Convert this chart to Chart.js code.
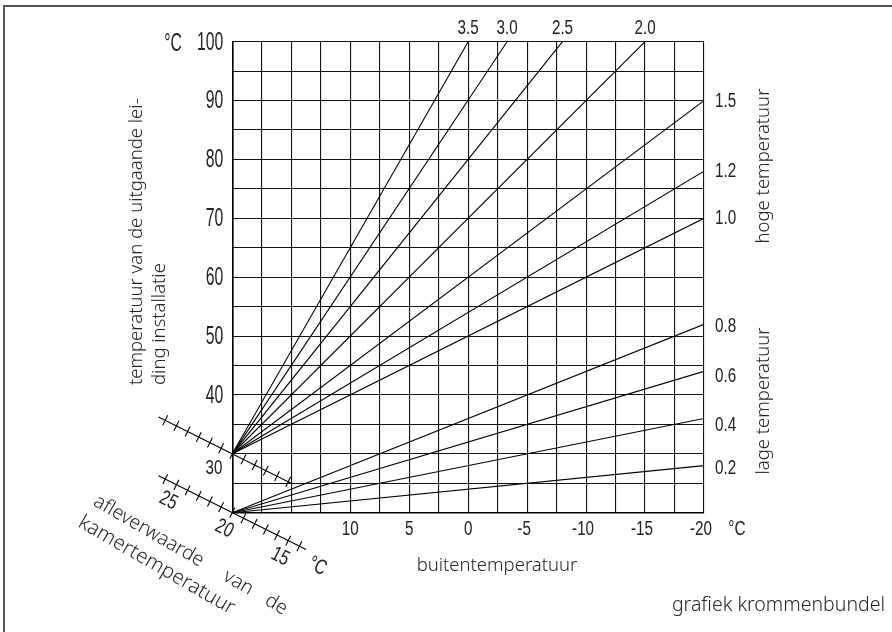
<!DOCTYPE html>
<html>
<head>
<meta charset="utf-8">
<script src="https://cdn.jsdelivr.net/npm/chart.js@4.4.1/dist/chart.umd.min.js"></script>
<style>
  html, body { margin: 0; padding: 0; background: #fff; }
  #wrap { width: 892px; height: 632px; position: relative; }
</style>
</head>
<body>
<div id="wrap"><canvas id="chart"></canvas></div>
<script>
// stooklijnen (heating curves): flow temperature against outdoor temperature
const curveLabels = ['3.5', '3.0', '2.5', '2.0', '1.5', '1.2', '1.0', '0.8', '0.6', '0.4', '0.2'];
const curveStartX = [20, 20, 20, 20, 20, 20, 20, 20, 20, 20, 20];
const curveStartY = [30, 30, 30, 30, 30, 30, 30, 20, 20, 20, 20];
const curveEndX = [0, -3.3, -8, -15, -20, -20, -20, -20, -20, -20, -20];
const curveEndY = [100, 100, 100, 100, 90, 78, 70, 52, 44, 36, 28];

const xTickLabels = [10, 5, 0, -5, -10, -15, -20];
const yTickLabels = [40, 50, 60, 70, 80, 90, 100];

// room temperature (oblique scales)
const roomTicksLow = [26, 25, 24, 23, 22, 21, 20, 19, 18, 17, 16, 15, 14];
const roomTicksHigh = [26, 25, 24, 23, 22, 21, 20, 19, 18, 17, 16, 15];
const roomTickLabels = [25, 20, 15];

const NUM_FAMILY = '"Liberation Sans", Arial, sans-serif';
const TXT_FAMILY = '"Noto Sans", "Open Sans", sans-serif';
const INK = '#222';

const datasets = curveLabels.map((lbl, i) => ({
  label: lbl,
  data: [{ x: curveStartX[i], y: curveStartY[i] }, { x: curveEndX[i], y: curveEndY[i] }],
  showLine: true,
  borderColor: '#000',
  borderWidth: 1.1,
  pointRadius: 0,
  fill: false
}));

// the numbers in the original use a condensed face: squeeze Liberation Sans
function narrow(ctx, txt, x, y, align, angle, size, sx) {
  ctx.save();
  ctx.translate(x, y);
  if (angle) ctx.rotate(angle);
  ctx.scale(sx || 0.78, 1);
  ctx.font = (size || 19.5) + 'px ' + NUM_FAMILY;
  ctx.textAlign = align || 'center';
  ctx.textBaseline = 'middle';
  ctx.fillText(txt, 0, 0);
  ctx.restore();
}

function roomScale(ctx, x0, y0, ticks, lineFrom, lineTo, withLabels) {
  const ang = Math.atan(0.5);
  const step = 12.5;
  const ux = Math.cos(ang), uy = Math.sin(ang);
  const nx = -uy, ny = ux;
  ctx.save();
  ctx.strokeStyle = '#000';
  ctx.lineWidth = 1.1;
  ctx.beginPath();
  ctx.moveTo(x0 + ux * lineFrom * step, y0 + uy * lineFrom * step);
  ctx.lineTo(x0 + ux * lineTo * step, y0 + uy * lineTo * step);
  ticks.forEach(t => {
    const d = (20 - t) * step;
    const px = x0 + ux * d, py = y0 + uy * d;
    ctx.moveTo(px - nx * 5.5, py - ny * 5.5);
    ctx.lineTo(px + nx * 5.5, py + ny * 5.5);
  });
  ctx.stroke();
  if (withLabels) {
    ctx.fillStyle = INK;
    roomTickLabels.forEach(t => {
      const d = (20 - t) * step;
      narrow(ctx, String(t), x0 + ux * d + nx * 18, y0 + uy * d + ny * 18, 'center', ang, 21, 0.75);
    });
    narrow(ctx, '°C', x0 + ux * 100 + nx * 10, y0 + uy * 100 + ny * 10, 'center', ang, 21, 0.75);
  }
  ctx.restore();
}

const extras = {
  id: 'extras',
  afterDraw(chart) {
    const ctx = chart.ctx;
    const xs = chart.scales.x, ys = chart.scales.y;
    const area = chart.chartArea;

    ctx.save();
    // frame
    ctx.strokeStyle = '#555';
    ctx.lineWidth = 2;
    ctx.strokeRect(4, 6, 1000, 1000);

    ctx.fillStyle = INK;
    // axis numbers, placed by the scales
    xs.ticks.forEach(t => {
      if (xTickLabels.includes(t.value)) {
        narrow(ctx, String(t.value), xs.getPixelForValue(t.value) - (t.value < 0 ? 3 : 0), area.bottom + 17);
      }
    });
    ys.ticks.forEach(t => {
      if (yTickLabels.includes(t.value)) {
        narrow(ctx, String(t.value), area.left - 9, ys.getPixelForValue(t.value) + 1, 'right', 0, 25, 0.63);
      }
    });

    // curve labels
    const nudge = { '1.5': 1, '0.8': 2, '0.6': 5, '0.4': 7, '0.2': 3 };
    curveLabels.forEach((lbl, i) => {
      if (curveEndY[i] >= 100) {
        narrow(ctx, lbl, xs.getPixelForValue(curveEndX[i]), area.top - 13);
      } else {
        narrow(ctx, lbl, area.right + 11, ys.getPixelForValue(curveEndY[i]) + (nudge[lbl] || 0), 'left');
      }
    });

    // units and the displaced 30
    narrow(ctx, '°C', 173, area.top + 2, 'center', 0, 25, 0.63);
    narrow(ctx, '°C', area.right + 33, area.bottom + 17, 'center', 0, 20.5, 0.75);
    narrow(ctx, '30', 214, ys.getPixelForValue(30) + 14, 'center', 0, 21, 0.72);

    // oblique room temperature scales
    const x20 = xs.getPixelForValue(20);
    roomScale(ctx, x20, ys.getPixelForValue(30), roomTicksHigh, -6.6, 5.26, false);
    roomScale(ctx, x20, ys.getPixelForValue(20), roomTicksLow, -6.6, 6.6, true);

    // titles
    ctx.fillStyle = '#262626';
    ctx.font = '300 18.5px ' + TXT_FAMILY;
    ctx.textAlign = 'center';
    ctx.textBaseline = 'middle';
    ctx.fillText('buitentemperatuur', 497, 566);
    ctx.font = '300 19.5px ' + TXT_FAMILY;
    ctx.textAlign = 'right';
    ctx.fillText('grafiek krommenbundel', 885, 605);
    ctx.font = '300 18.5px ' + TXT_FAMILY;

    const vtext = (txt, x, y, align) => {
      ctx.save();
      ctx.translate(x, y);
      ctx.rotate(-Math.PI / 2);
      ctx.textAlign = align;
      ctx.fillText(txt, 0, 0);
      ctx.restore();
    };
    vtext('temperatuur van de uitgaande lei-', 137, 385, 'left');
    vtext('ding installatie', 160, 385, 'left');
    vtext('hoge temperatuur', 764, 166, 'center');
    vtext('lage temperatuur', 764, 401, 'center');

    const otext = (txt, x, y) => {
      ctx.save();
      ctx.translate(x, y);
      ctx.rotate(30 * Math.PI / 180);
      ctx.textAlign = 'left';
      ctx.fillText(txt, 0, 0);
      ctx.restore();
    };
    ctx.font = '300 19.5px ' + TXT_FAMILY;
    otext('afleverwaarde', 95, 500);
    otext('van', 95 + 150 * 0.866, 500 + 150 * 0.5);
    otext('de', 95 + 198 * 0.866, 500 + 198 * 0.5);
    ctx.font = '300 20.5px ' + TXT_FAMILY;
    otext('kamertemperatuur', 80, 521);
    ctx.restore();
  }
};

new Chart(document.getElementById('chart'), {
  type: 'scatter',
  data: { datasets },
  options: {
    responsive: true,
    maintainAspectRatio: false,
    animation: false,
    events: [],
    layout: { padding: { left: 0, top: 41.7, right: 188, bottom: 0 } },
    plugins: { legend: { display: false }, tooltip: { enabled: false } },
    scales: {
      x: {
        type: 'linear',
        min: -20,
        max: 20,
        reverse: true,
        afterFit: s => { s.height = 119.3; },
        border: { display: true, color: '#000', width: 1.6 },
        grid: { color: '#111', lineWidth: 1.1, drawTicks: false },
        ticks: { stepSize: 2.5, autoSkip: false, display: false }
      },
      y: {
        type: 'linear',
        min: 20,
        max: 100,
        afterFit: s => { s.width = 232.3; },
        border: { display: true, color: '#000', width: 1.6 },
        grid: { color: '#111', lineWidth: 1.1, drawTicks: false },
        ticks: { stepSize: 5, autoSkip: false, display: false }
      }
    }
  },
  plugins: [extras]
});
</script>
</body>
</html>
